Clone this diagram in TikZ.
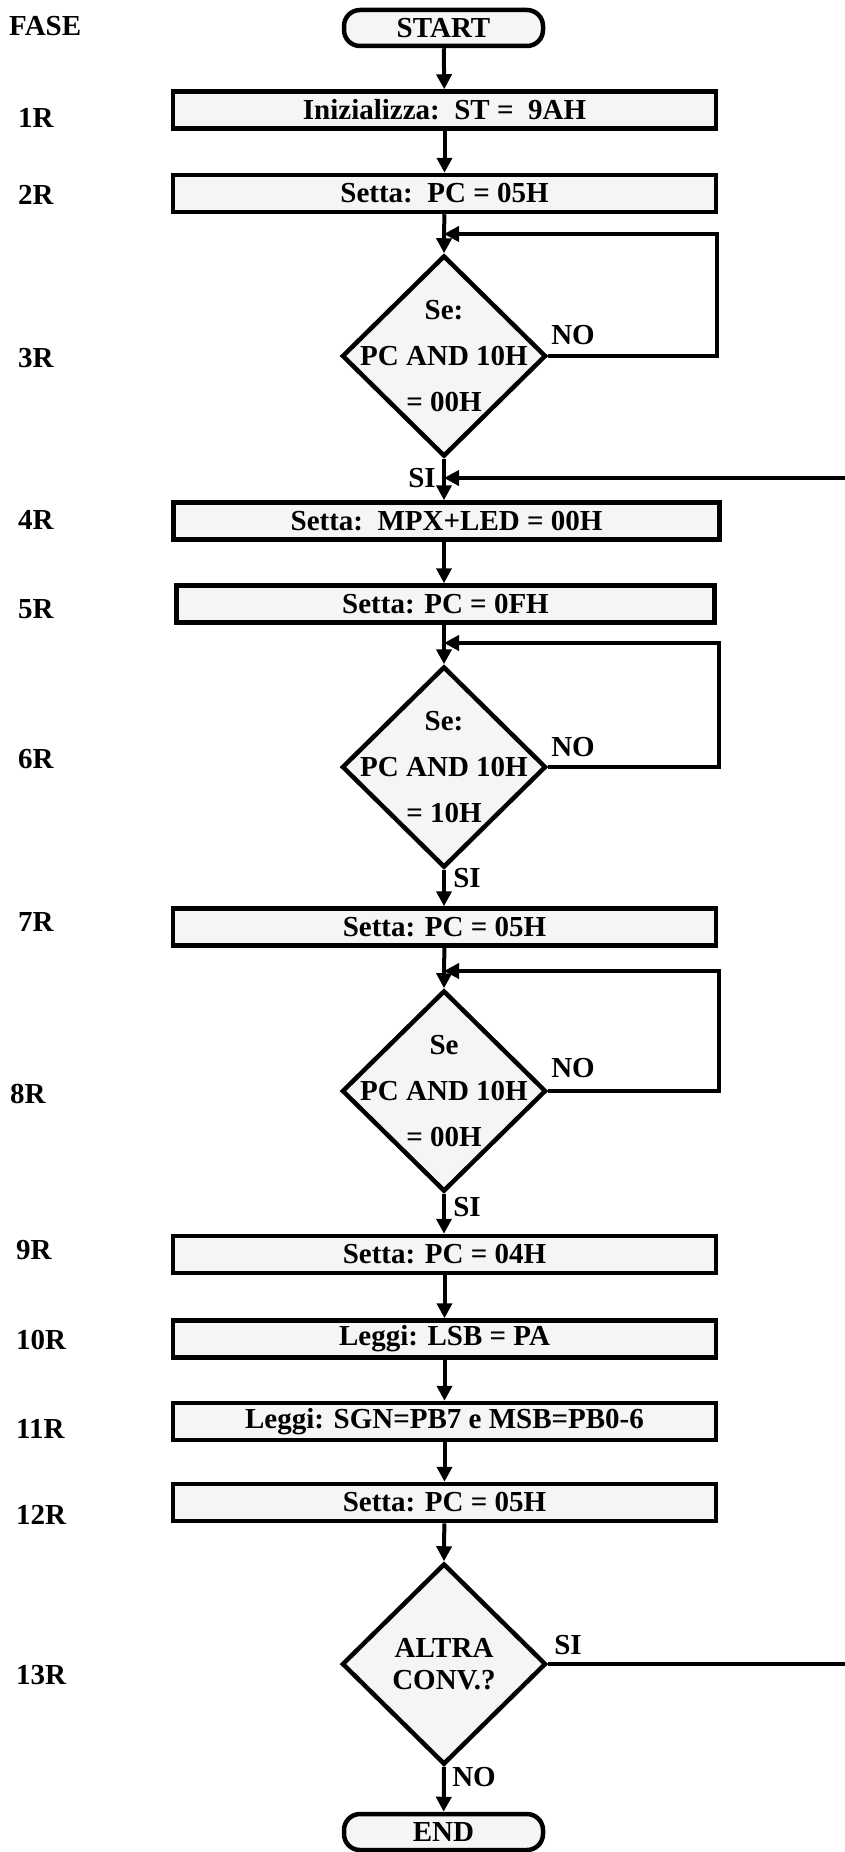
\documentclass[tikz,border=0pt]{standalone}
\usepackage{fontspec}
\setmainfont{Liberation Serif}
\usetikzlibrary{shapes.geometric,arrows.meta}
\definecolor{boxfill}{HTML}{F5F5F5}
\begin{document}
\begin{tikzpicture}[x=1pt,y=-1pt,
  every node/.style={font=\fontsize{29}{34}\selectfont\bfseries},
  procbox/.style={draw,line width=4.5pt,fill=boxfill,minimum width=543pt,minimum height=37pt,inner sep=0pt},
  termbox/.style={draw,line width=4.5pt,fill=boxfill,rounded corners=16pt,minimum width=199pt,minimum height=36pt,inner sep=0pt},
  decbox/.style={draw,diamond,line width=4.5pt,fill=boxfill,minimum width=204pt,minimum height=201pt,inner sep=0pt},
  dectext/.style={align=center,inner sep=0pt,font=\fontsize{29}{46}\selectfont\bfseries},
  dectextb/.style={align=center,inner sep=0pt,font=\fontsize{29}{32}\selectfont\bfseries},
  phase/.style={anchor=west,inner sep=0pt},
  lbl/.style={inner sep=0pt},
  arr/.style={line width=4pt,-{Triangle[length=15pt,width=15pt]}},
]
\clip (0,0) rectangle (845,1852);
\fill[white] (0,0) rectangle (845,1852);

% phase labels
\node[phase] (fase) at (9,26) {FASE};
\node[phase] (p1) at (18,118) {1R};
\node[phase] (p2) at (18,195) {2R};
\node[phase] (p3) at (18,358) {3R};
\node[phase] (p4) at (18,520) {4R};
\node[phase] (p5) at (18,609) {5R};
\node[phase] (p6) at (18,759) {6R};
\node[phase] (p7) at (18,922) {7R};
\node[phase] (p8) at (10,1094) {8R};
\node[phase] (p9) at (16,1250) {9R};
\node[phase] (p10) at (16,1340) {10R};
\node[phase] (p11) at (16,1429) {11R};
\node[phase] (p12) at (16,1515) {12R};
\node[phase] (p13) at (16,1675) {13R};

% flow nodes
\node[termbox] (start) at (443.5,28) {START};
\node[procbox] (b1) at (444.5,110) {Inizializza:\ \ ST =\ \ 9AH};
\node[procbox] (b2) at (444.5,193.5) {Setta:\ \ PC = 05H};
\node[decbox] (d3) at (444,356) {};
\node[dectext] (d3t) at (d3) {Se:\\PC AND 10H\\= 00H};
\node[procbox,minimum width=546pt] (b4) at (446.5,521) {Setta:\ \ MPX+LED = 00H};
\node[procbox,minimum width=538pt] (b5) at (445.5,604) {Setta: PC = 0FH};
\node[decbox] (d6) at (444,767) {};
\node[dectext] (d6t) at (d6) {Se:\\PC AND 10H\\= 10H};
\node[procbox] (b7) at (444.5,927) {Setta: PC = 05H};
\node[decbox] (d8) at (444,1091) {};
\node[dectext] (d8t) at (d8) {Se\\PC AND 10H\\= 00H};
\node[procbox] (b9) at (444.5,1254.5) {Setta: PC = 04H};
\node[procbox] (b10) at (444.5,1339) {Leggi: LSB = PA};
\node[procbox] (b11) at (444.5,1421.5) {Leggi: SGN=PB7 e MSB=PB0-6};
\node[procbox] (b12) at (444.5,1502.5) {Setta: PC = 05H};
\node[decbox] (d13) at (444,1664) {};
\node[dectextb] (d13t) at (d13) {ALTRA\\CONV.?};
\node[termbox] (end) at (443.5,1832) {END};

% junction points
\coordinate (j3) at (444,234);
\coordinate (j4) at (444,478);
\coordinate (j6) at (444,643);
\coordinate (j8) at (444,971);

% connectors
\draw[arr] (start) -- (b1);
\draw[arr] (b1) -- (b2);
\draw[arr] (b2) -- (d3.north);
\draw[arr] (d3.east) -- (717,356) |- (j3);
\draw[arr] (d3.south) -- (b4.north -| d3.south);
\draw[arr] (d13.east) -- (880,1664) |- (j4);
\draw[arr] (b4.south -| d3.south) -- (b5.north -| d3.south);
\draw[arr] (b5.south -| d3.south) -- (d6.north);
\draw[arr] (d6.east) -- (719,767) |- (j6);
\draw[arr] (d6.south) -- (b7.north -| d6.south);
\draw[arr] (b7) -- (d8.north);
\draw[arr] (d8.east) -- (719,1091) |- (j8);
\draw[arr] (d8.south) -- (b9.north -| d8.south);
\draw[arr] (b9) -- (b10);
\draw[arr] (b10) -- (b11);
\draw[arr] (b11) -- (b12);
\draw[arr] (b12) -- (d13.north);
\draw[arr] (d13.south) -- (end);

% branch labels
\node[lbl] (no3) at (573,335) {NO};
\node[lbl] (si3) at (422,478) {SI};
\node[lbl] (no6) at (573,747) {NO};
\node[lbl] (si6) at (467,878) {SI};
\node[lbl] (no8) at (573,1068) {NO};
\node[lbl] (si8) at (467,1207) {SI};
\node[lbl] (si13) at (568,1645) {SI};
\node[lbl] (no13) at (474,1777) {NO};
\end{tikzpicture}
\end{document}
